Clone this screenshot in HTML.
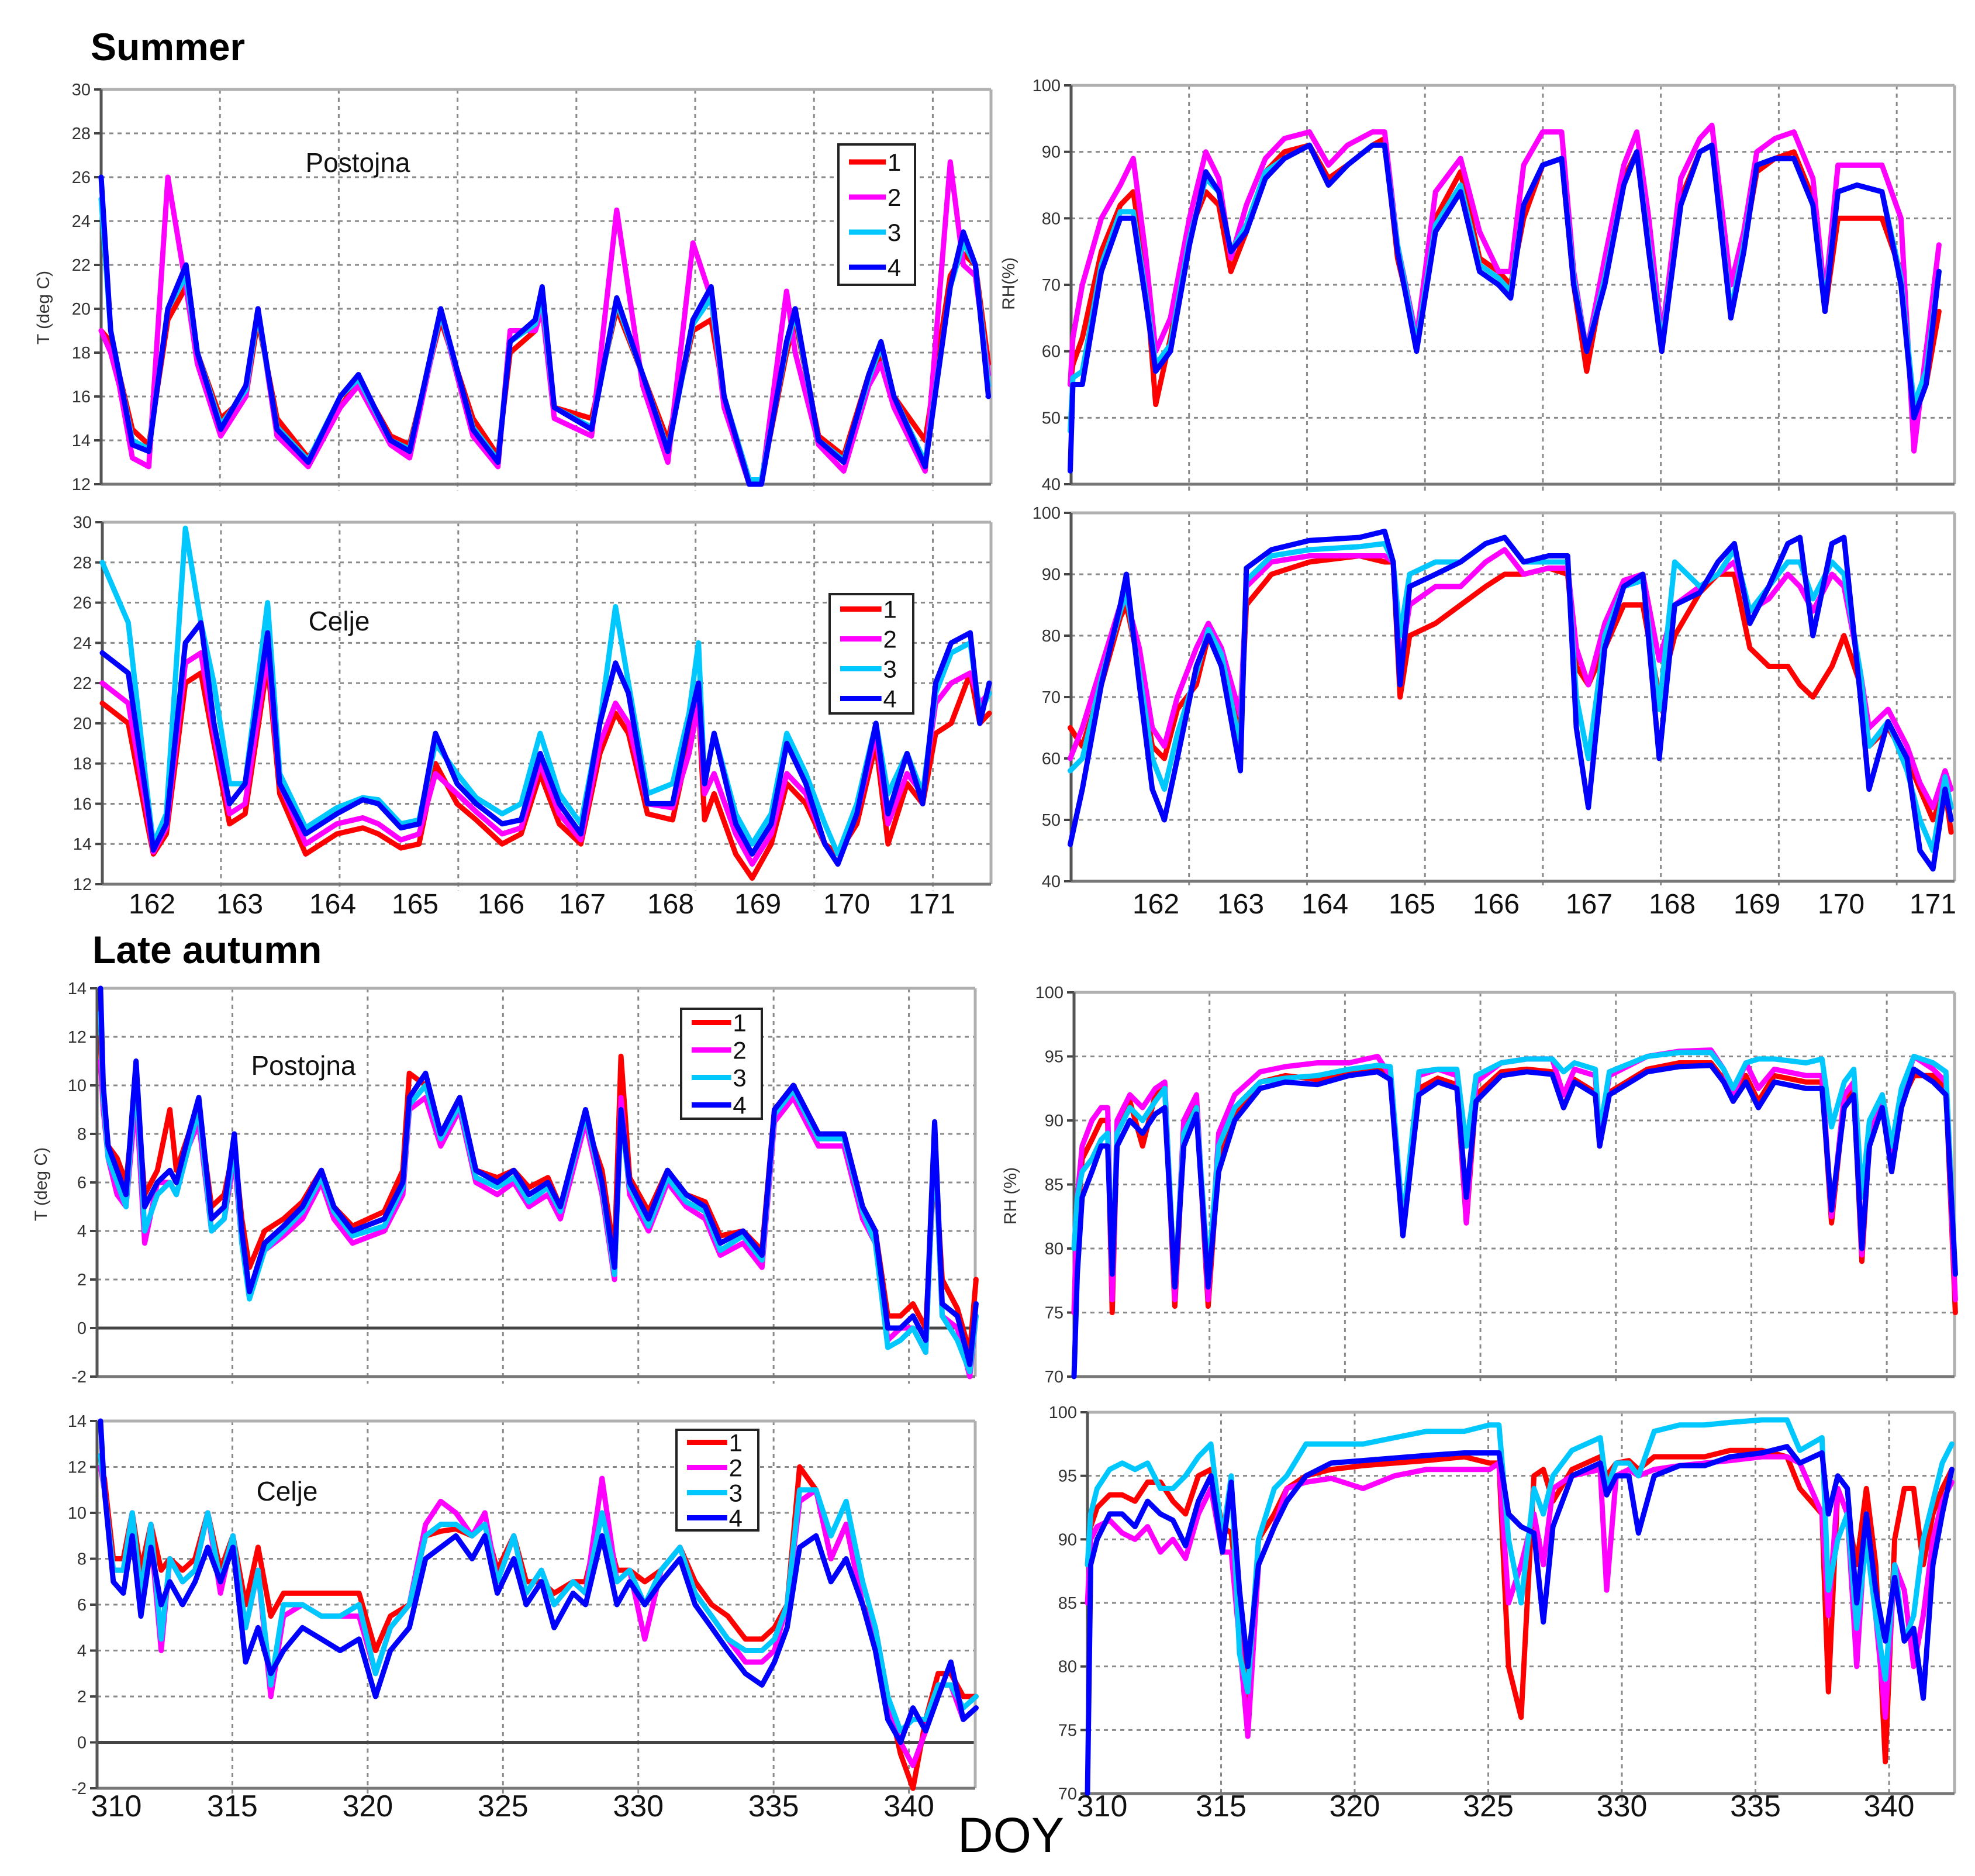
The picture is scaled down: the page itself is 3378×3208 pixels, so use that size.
<!DOCTYPE html>
<html><head><meta charset="utf-8"><style>
html,body{margin:0;padding:0;background:#fff}
svg{display:block}
text{font-family:"Liberation Sans",Arial,sans-serif}
</style></head><body>
<svg id="fig" width="3378" height="3208" viewBox="0 0 3378 3208" xmlns="http://www.w3.org/2000/svg">
<rect width="3378" height="3208" fill="#fff"/>
<text x="155" y="103" font-size="66" font-weight="bold">Summer</text>
<text x="158" y="1647" font-size="66" font-weight="bold">Late autumn</text>
<text x="1638" y="3167" font-size="84">DOY</text>
<text transform="translate(84,526) rotate(-90)" font-size="30" text-anchor="middle" fill="#333">T (deg C)</text>
<text transform="translate(1735,485) rotate(-90)" font-size="30" text-anchor="middle" fill="#333">RH(%)</text>
<text transform="translate(80,2025) rotate(-90)" font-size="30" text-anchor="middle" fill="#333">T (deg C)</text>
<text transform="translate(1738,2045) rotate(-90)" font-size="30" text-anchor="middle" fill="#333">RH (%)</text>
<g id="panels"></g>
</svg>
<script>
// ---------- DATA ----------
const seriesLabels = ["1","2","3","4"];
const seriesColors = ["#ff0000","#ff00ff","#00c8ff","#0000ff"];

// Summer Postojna T
const sPosT_time = [161.41,161.52,161.62,161.77,161.96,162.18,162.39,162.52,162.79,163.08,163.22,163.44,163.80,164.17,164.38,164.75,164.97,165.33,165.70,165.99,166.13,166.42,166.50,166.64,167.07,167.36,167.66,167.95,168.24,168.45,168.60,168.89,169.03,169.32,169.42,169.69,169.98,170.27,170.41,170.56,170.92,171.21,171.36,171.50,171.65];
const sPosT_1 = [19,18.5,17,14.5,13.8,19.5,21,18,15,16,19.5,15,13.2,15.5,16.8,14.2,13.8,19.5,15,13.3,18,19,20,15.5,15,20,17,14,19,19.5,16,12.2,12.2,18,19.5,14.2,13.3,17,17.8,16,14,21.5,22.5,22,17.5];
const sPosT_2 = [19,18,16.5,13.2,12.8,26,21,17.5,14.2,16,20,14.2,12.8,15.5,16.5,13.8,13.2,19.8,14.2,12.8,19,19,20,15,14.2,24.5,16.5,13,23,20.5,15.5,12,12,20.8,18,13.8,12.6,16.5,17.5,15.5,12.6,26.7,22,21.5,17];
const sPosT_3 = [25,19,17,14,13.6,20,21.5,18,14.7,16.3,19.8,14.6,13.1,16,16.8,14,13.6,19.8,14.6,13.1,18.5,19.3,20.5,15.5,14.6,20.3,17,13.6,19.3,20.5,16,12.2,12.2,18.3,19.8,14,13.1,16.8,18.3,16,13,21,23,22,16.5];
const sPosT_4 = [26,19,17,13.8,13.5,20,22,18,14.5,16.5,20,14.5,13,16,17,14,13.5,20,14.5,13,18.5,19.5,21,15.5,14.5,20.5,17,13.5,19.5,21,16,12,12,18.5,20,14,13,17,18.5,16,12.8,21,23.5,22,16];

// Summer Celje T
const sCelT_time = [161.41,161.71,161.93,162.0,162.15,162.37,162.55,162.70,162.88,163.06,163.32,163.46,163.76,164.12,164.42,164.6,164.86,165.07,165.26,165.51,165.73,166.03,166.25,166.47,166.69,166.94,167.16,167.34,167.49,167.71,168.0,168.19,168.30,168.37,168.48,168.73,168.92,169.14,169.32,169.54,169.76,169.91,170.13,170.35,170.49,170.71,170.89,171.04,171.22,171.44,171.55,171.66];
const sCelT_1 = [21,20,15,13.5,14.5,22,22.5,19,15,15.5,23,16.5,13.5,14.5,14.8,14.5,13.8,14,18,16,15.2,14,14.5,17.5,15,14,18.5,20.5,19.5,15.5,15.2,19,21,15.2,16.5,13.5,12.3,14,17,16,14,13.5,15,19,14,17,16,19.5,20,22.5,20,20.5];
const sCelT_2 = [22,21,15.5,13.6,14.8,23,23.5,19.5,15.5,16,23.5,17,14,15,15.3,15,14.2,14.5,17.5,16.5,15.6,14.5,14.8,18,15.5,14.2,19,21,20,16,15.8,18.5,21,16.5,17.5,14.5,13,14.5,17.5,16.5,14,13,15.5,19.5,15,17.5,16.5,21,22,22.5,21,21.5];
const sCelT_3 = [28,25,16.5,14,15.5,29.7,25,22,17,17,26,17.5,14.8,15.8,16.3,16.2,15,15.2,19,17.5,16.3,15.5,16,19.5,16.5,15,20,25.8,22,16.5,17,20.5,24,17,19.5,15.5,14,15.5,19.5,17.5,15,13.5,16,20,16.5,18.5,16.5,21.5,23.5,24,20.5,21.5];
const sCelT_4 = [23.5,22.5,16,13.7,15,24,25,20,16,17,24.5,17,14.5,15.5,16.2,16,14.8,15,19.5,17,16,15,15.2,18.5,16,14.5,20,23,21.5,16,16,20,22,17,19.5,15,13.5,15,19,17,14,13,15.5,20,15.5,18.5,16,22,24,24.5,20,22];

// Summer Postojna RH
const sPosRH_time = [161.01,161.04,161.15,161.37,161.59,161.74,161.88,162.0,162.17,162.39,162.58,162.73,162.87,163.05,163.27,163.49,163.78,164.0,164.22,164.51,164.65,164.80,165.02,165.24,165.53,165.75,165.97,166.11,166.26,166.48,166.70,166.84,166.99,167.20,167.42,167.57,167.71,167.86,168.08,168.30,168.44,168.66,168.81,168.96,169.17,169.39,169.61,169.75,169.90,170.12,170.41,170.63,170.78,170.92,171.07];
const sPosRH_1 = [55,58,62,75,82,84,72,52,62,78,84,82,72,78,87,90,91,86,88,91,92,74,62,80,87,74,72,70,80,88,89,70,57,72,86,90,75,60,83,90,91,70,76,87,89,90,83,66,80,80,80,72,50,55,66];
const sPosRH_2 = [55,62,70,80,85,89,75,60,65,80,90,86,74,82,89,92,93,88,91,93,93,76,62,84,89,78,72,72,88,93,93,72,60,74,88,93,80,62,86,92,94,70,78,90,92,93,86,68,88,88,88,80,45,60,76];
const sPosRH_3 = [48,56,57,73,81,81,69,58,61,77,86,84,75,79,87,89,91,85,88,91,91,76,61,79,85,73,71,69,82,88,89,71,60,71,85,90,76,61,82,90,91,66,76,88,89,89,82,67,84,85,84,71,52,57,72];
const sPosRH_4 = [42,55,55,72,80,80,68,57,60,76,87,84,75,78,86,89,91,85,88,91,91,75,60,78,84,72,70,68,82,88,89,70,60,70,85,90,75,60,82,90,91,65,75,88,89,89,82,66,84,85,84,70,50,55,72];

// Summer Celje RH
const sCelRH_time = [161.01,161.15,161.37,161.59,161.66,161.81,161.96,162.1,162.25,162.47,162.61,162.76,162.98,163.05,163.34,163.78,164.36,164.65,164.75,164.83,164.94,165.24,165.53,165.82,166.04,166.26,166.55,166.77,166.87,167.01,167.20,167.42,167.64,167.83,168.01,168.30,168.51,168.70,168.88,169.10,169.32,169.46,169.61,169.83,169.97,170.16,170.26,170.48,170.70,170.85,171.0,171.14,171.21];
const sCelRH_1 = [65,62,72,83,85,75,62,60,68,72,80,76,65,85,90,92,93,92,92,70,80,82,85,88,90,90,91,90,75,72,78,85,85,70,80,87,90,90,78,75,75,72,70,75,80,72,62,65,60,55,50,55,48];
const sCelRH_2 = [60,65,75,85,86,78,65,62,70,78,82,78,67,88,92,93,93,93,92,75,85,88,88,92,94,90,91,91,78,72,82,89,90,76,85,88,90,92,84,86,90,88,84,90,88,74,65,68,62,56,52,58,55];
const sCelRH_3 = [58,60,73,84,87,74,60,55,64,74,81,77,62,89,93,94,94.5,95,92,80,90,92,92,95,96,92,92,92,70,60,80,88,89,68,92,88,90,94,84,88,92,92,86,92,90,74,62,66,58,50,45,57,52];
const sCelRH_4 = [46,55,72,85,90,72,55,50,60,75,80,75,58,91,94,95.5,96,97,92,72,88,90,92,95,96,92,93,93,65,52,78,88,90,60,85,87,92,95,82,88,95,96,80,95,96,70,55,66,60,45,42,55,50];

// Autumn Postojna T
const aPosT_time = [310.13,310.23,310.41,310.74,311.07,311.44,311.76,312.23,312.69,312.93,313.39,313.76,314.23,314.70,315.07,315.35,315.63,316.19,316.89,317.59,318.29,318.75,319.44,320.61,321.30,321.54,322.14,322.70,323.40,324.0,324.79,325.40,325.96,326.66,327.12,328.05,328.66,329.12,329.36,329.68,330.38,331.08,331.77,332.47,333.03,333.87,334.57,335.03,335.73,336.66,337.60,338.29,338.76,339.22,339.69,340.15,340.62,340.95,341.23,341.79,342.25,342.48];
const aPosT_1 = [12,9,7.5,7,6,10,5.5,6.5,9,6.5,8,9,5,5.5,7.5,4.5,2.5,4,4.5,5.2,6.5,5,4.2,4.8,6.5,10.5,10,8,9.5,6.5,6.2,6.5,5.8,6.2,5,8.5,6.5,3,11.2,6.2,4.8,6.5,5.5,5.2,3.8,4,3.2,9,10,8,8,5,4,0.5,0.5,1,0,7,2,0.8,-1,2];
const aPosT_2 = [11,9,7,5.5,5,9.5,3.5,6,6,5.5,7.5,8.5,4,4.5,7,3.5,1.5,3.2,3.8,4.5,6,4.5,3.5,4,5.5,9,9.5,7.5,9,6,5.5,6,5,5.5,4.5,8.5,5.5,2,9.5,5.5,4,6,5,4.5,3,3.5,2.5,8.5,9.5,7.5,7.5,4.5,3.5,-0.5,0,0,-1,8,0.5,0,-2,0.5];
const aPosT_3 = [13,9.5,7,6,5,10.5,4,5.5,6,5.5,7.5,9,4,4.5,7.5,3.5,1.2,3.2,4,4.8,6.2,4.8,3.8,4.2,5.8,9.2,10,7.8,9.2,6.2,5.8,6.2,5.2,5.8,4.8,8.8,5.8,2.2,8.8,5.8,4.2,6.2,5.2,4.8,3.2,3.8,2.8,8.8,9.8,7.8,7.8,4.8,3.5,-0.8,-0.5,0,-1,8,0.5,-0.5,-1.8,0.5];
const aPosT_4 = [14,10,7.5,6.5,5.5,11,5,6,6.5,6,8,9.5,4.5,5,8,4,1.5,3.5,4.2,5,6.5,5,4,4.5,6,9.5,10.5,8,9.5,6.5,6,6.5,5.5,6,5,9,6,2.5,9,6,4.5,6.5,5.5,5,3.5,4,3,9,10,8,8,5,4,0,0,0.5,-0.5,8.5,1,0.5,-1.5,1];

// Autumn Celje T
const aCelT_time = [310.13,310.27,310.6,310.97,311.30,311.62,311.99,312.37,312.69,313.16,313.62,314.09,314.56,315.02,315.49,315.95,316.42,316.89,317.59,318.29,318.98,319.68,320.29,320.84,321.54,322.14,322.70,323.26,323.86,324.33,324.79,325.40,325.86,326.42,326.89,327.59,328.05,328.66,329.21,329.68,330.24,330.84,331.54,332.10,332.71,333.31,333.96,334.57,335.03,335.50,335.96,336.57,337.12,337.68,338.29,338.76,339.22,339.69,340.15,340.62,341.08,341.55,342.01,342.48];
const aCelT_1 = [12,11.5,8,8,10,7.5,9.5,7.5,8,7.5,8,10,7.5,9,6,8.5,5.5,6.5,6.5,6.5,6.5,6.5,4,5.5,6,9,9.2,9.3,9,9.5,7.5,9,7,7,6.5,7,7,10,7.5,7.5,7,7.5,8.5,7,6,5.5,4.5,4.5,5,6,12,11,8,9.5,6,5,2,-0.5,-2,1,3,3,2,2];
const aCelT_2 = [12,11,7.5,7.5,10,6,9,4,8,7,7.5,10,6.5,9,5,7.5,2,5.5,6,5.5,5.5,5.5,3,5,6,9.5,10.5,10,9,10,7,9,6.5,7.5,6,7,6.5,11.5,7,7.5,4.5,7.5,8.5,6.5,5.5,4.5,3.5,3.5,4,6,10.5,11,8,9.5,6,4.5,1.5,0,-1,0.5,2.5,2.5,1,1.5];
const aCelT_3 = [12.5,11,7.5,7.5,10,6.5,9.5,4.5,8,7,7.5,10,7,9,5,7.5,2.5,6,6,5.5,5.5,6,3,5,6,9,9.5,9.5,9,9.5,7,9,6.5,7.5,6,7,6.5,10,7,7.5,6,7.5,8.5,6.5,5.5,4.5,4,4,4.5,6,11,11,9,10.5,7,5,2,0.5,1,1,2.5,2.5,1.5,2];
const aCelT_4 = [14,11,7,6.5,9,5.5,8.5,6,7,6,7,8.5,7,8.5,3.5,5,3,4,5,4.5,4,4.5,2,4,5,8,8.5,9,8,9,6.5,8,6,7,5,6.5,6,9,6,7,6,7,8,6,5,4,3,2.5,3.5,5,8.5,9,7,8,6,4,1,0,1.5,0.5,2,3.5,1,1.5];

// Autumn Postojna RH
const aPosRH_time = [310,310.12,310.30,310.66,311.0,311.24,311.41,311.59,312.06,312.53,313.0,313.35,313.72,314.05,314.52,314.95,315.34,315.93,316.87,317.80,318.98,320.15,321.2,321.67,322.14,322.73,323.43,324.13,324.48,324.84,325.77,326.71,327.65,328.07,328.47,329.24,329.40,329.76,331.16,332.33,333.51,333.98,334.33,334.80,335.26,335.85,337.02,337.61,337.96,338.43,338.78,339.08,339.36,339.83,340.18,340.54,341.0,341.71,342.18,342.53];
const aPosRH_1 = [75,82,87,88.5,90,90,75,89,91.5,88,92,92.5,75.5,89,91.5,75.5,87,90.5,93,93.5,93.2,93.8,94,93.5,82,92.5,93.3,92.8,82,92,93.8,94,93.8,91,93.2,92.2,88,92.2,94,94.5,94.5,93.2,91.5,93.5,91.5,93.5,93,93,82,91.5,92.5,79,88.5,91.5,86,91.5,93.5,93.5,92.5,75];
const aPosRH_2 = [75,84,88,90,91,91,76,90,92,91,92.5,93,76,90,92,76,89,92,93.8,94.2,94.5,94.5,95,93.5,82,93.5,94,93.5,82,93,94.5,94.8,94.8,92,94,93.5,88.5,93.5,95,95.4,95.5,94,92,94.5,92.5,94,93.5,93.5,82.5,92,93,79.5,89,92,86.5,92,95,94,93,76];
const aPosRH_3 = [80,84,86,87,88.5,89,78,89,91,90,91.5,92.5,77,89,91,78,88,91,93,93.3,93.5,94,94.3,94.2,82,93.8,94,94,88,93.5,94.5,94.8,94.8,93.8,94.5,94,89,93.8,95,95.3,95.3,94,92.5,94.5,94.8,94.8,94.5,94.8,89.5,93,94,84,90,92,88,92.5,95,94.5,93.8,78];
const aPosRH_4 = [70,78,84,86,88,88,78,88,90,89,90.5,91,77,88,90.5,77,86,90,92.5,93,92.8,93.5,93.8,93.2,81,92,93,92.5,84,91.5,93.5,93.8,93.6,91,93,92,88,92,93.8,94.2,94.3,93,91.5,93,91,93,92.5,92.5,83,91,92,80,88,91,86,91,94,93,92,78];

// Autumn Celje RH
const aCelRH_time = [310,310.12,310.36,310.83,311.30,311.78,312.25,312.73,313.2,313.67,314.15,314.62,315.05,315.38,315.69,316.0,316.40,316.99,317.46,318.18,319.12,320.31,321.49,322.68,324.10,325.05,325.40,325.76,326.23,326.71,327.06,327.42,328.13,329.19,329.43,329.79,330.26,330.62,331.21,332.16,333.10,334.05,335.24,336.18,336.66,337.49,337.73,338.08,338.44,338.79,339.15,339.50,339.86,340.21,340.57,340.92,341.28,341.64,341.99,342.35];
const aCelRH_1 = [88,91,92.5,93.5,93.5,93,94.5,94.5,93,92,95,95.5,91,90.5,85,76,90,92,94,95,95.5,95.8,96,96.2,96.5,96,96,80,76,95,95.5,93,95.5,96.5,95,96,96.2,95.5,96.5,96.5,96.5,97,97,96.5,94,92,78,94,92,88,94,88,72.5,90,94,94,88,92,94,95.5];
const aCelRH_2 = [85,90,91,91.5,90.5,90,91,89,90,88.5,92,94,89,89,82,74.5,88,91,94,94.5,94.8,94,95,95.5,95.5,95.5,96,85,88,92,88,94,95,95.5,86,95,95.5,95,95.5,95.8,96,96.2,96.5,96.5,96,92,84,94,92,80,92,84,76,88,86,80,84,90,93,94.5];
const aCelRH_3 = [88,92,94,95.5,96,95.5,96,94,94,95,96.5,97.5,90,95,81,78,90,94,95,97.5,97.5,97.5,98,98.5,98.5,99,99,90,85,94,92,95,97,98,94,96,96,95,98.5,99,99,99.2,99.4,99.4,97,98,86,90,92,83,90,84,79,88,82,84,90,93,96,97.5];
const aCelRH_4 = [70,88,90,92,92,91,93,92,91.5,89.5,93,95,89,94.5,86,80,88,91,93,95,96,96.2,96.4,96.6,96.8,96.8,96.8,92,91,90.5,83.5,91,95,96,93.5,95,95,90.5,95,95.8,95.8,96.5,96.8,97.3,96,96.8,92,95,94,85,92,86,82,87,82,83,77.5,88,92,95.5];

// Tick values
const summerTTicks = [12,14,16,18,20,22,24,26,28,30];
const summerRHTicks = [40,50,60,70,80,90,100];
const autumnTTicks = [-2,0,2,4,6,8,10,12,14];
const autumnRHTicks = [70,75,80,85,90,95,100];
const summerDays = ["162","163","164","165","166","167","168","169","170","171"];
const autumnDays = ["310","315","320","325","330","335","340"];

// ---------- LAYOUT (geometry only) ----------
const panels = [
 {name:"summer-postojna-t", x0:173,x1:1695,y0:153,y1:828, d0:161.41,d1:171.68, v0:12,v1:30, ticks:summerTTicks, t:sPosT_time, s:[sPosT_1,sPosT_2,sPosT_3,sPosT_4], grid:"sumL", legend:[1434,247,131,240], station:["Postojna",612,278]},
 {name:"summer-celje-t", x0:175,x1:1695,y0:893,y1:1512, d0:161.41,d1:171.68, v0:12,v1:30, ticks:summerTTicks, t:sCelT_time, s:[sCelT_1,sCelT_2,sCelT_3,sCelT_4], grid:"sumL", legend:[1419,1016,143,204], station:["Celje",580,1062], xlab:"sumL"},
 {name:"summer-postojna-rh", x0:1832,x1:3343,y0:146,y1:828, d0:161.02,d1:171.25, v0:40,v1:100, ticks:summerRHTicks, t:sPosRH_time, s:[sPosRH_1,sPosRH_2,sPosRH_3,sPosRH_4], grid:"sumR"},
 {name:"summer-celje-rh", x0:1832,x1:3343,y0:877,y1:1507, d0:161.02,d1:171.25, v0:40,v1:100, ticks:summerRHTicks, t:sCelRH_time, s:[sCelRH_1,sCelRH_2,sCelRH_3,sCelRH_4], grid:"sumR", xlab:"sumR"},
 {name:"autumn-postojna-t", x0:166,x1:1668,y0:1690,y1:2354, d0:310,d1:342.45, v0:-2,v1:14, ticks:autumnTTicks, t:aPosT_time, s:[aPosT_1,aPosT_2,aPosT_3,aPosT_4], grid:"aut", zero:true, legend:[1165,1725,138,188], station:["Postojna",519,1822]},
 {name:"autumn-celje-t", x0:166,x1:1668,y0:2430,y1:3058, d0:310,d1:342.45, v0:-2,v1:14, ticks:autumnTTicks, t:aCelT_time, s:[aCelT_1,aCelT_2,aCelT_3,aCelT_4], grid:"aut", zero:true, legend:[1157,2445,140,172], station:["Celje",491,2550], xlab:"autL"},
 {name:"autumn-postojna-rh", x0:1837,x1:3343,y0:1697,y1:2354, d0:310,d1:342.5, v0:70,v1:100, ticks:autumnRHTicks, t:aPosRH_time, s:[aPosRH_1,aPosRH_2,aPosRH_3,aPosRH_4], grid:"aut"},
 {name:"autumn-celje-rh", x0:1860,x1:3343,y0:2415,y1:3067, d0:310,d1:342.45, v0:70,v1:100, ticks:autumnRHTicks, t:aCelRH_time, s:[aCelRH_1,aCelRH_2,aCelRH_3,aCelRH_4], grid:"aut", xlab:"autR"}
];
const NS="http://www.w3.org/2000/svg";
const root=document.getElementById('panels');
function mk(tag,attrs,parent){const e=document.createElementNS(NS,tag);for(const k in attrs)e.setAttribute(k,attrs[k]);(parent||root).appendChild(e);return e;}

panels.forEach(p=>{
  const g=mk('g',{});
  
  
  const X=d=>p.x0+(d-p.d0)/(p.d1-p.d0)*(p.x1-p.x0);
  const Y=v=>p.y1-(v-p.v0)/(p.v1-p.v0)*(p.y1-p.y0);
  // vertical gridlines
  let gx=[];
  if(p.grid==="sumL"||p.grid==="sumR"){const w=(p.x1-p.x0)/7.49;for(let k=1;k<=7;k++)gx.push(p.x0+w*k);}
  else {for(let d=315;d<=340;d+=5)gx.push(X(d));}
  gx.forEach(x=>{const l=mk('line',{x1:x,x2:x,y1:p.y0,y2:p.y1+12,stroke:'#8a8a8a','stroke-width':3,'stroke-dasharray':'7 7'},g);
    
    });
  // horizontal gridlines + tick labels
  p.ticks.forEach(v=>{const y=Y(v);
    if(v!==p.v0&&v!==p.v1){const l=mk('line',{x1:p.x0,x2:p.x1,y1:y,y2:y,stroke:'#8a8a8a','stroke-width':3,'stroke-dasharray':'7 7'},g);
      
      }
    mk('line',{x1:p.x0-12,x2:p.x0,y1:y,y2:y,stroke:'#444','stroke-width':4},g);
    const t=mk('text',{x:p.x0-18,y:y+10,'font-size':29,'text-anchor':'end',fill:'#333'},g);
    t.textContent=String(v);
    
    
  });
  if(p.zero){const l=mk('line',{x1:p.x0,x2:p.x1,y1:Y(0),y2:Y(0),stroke:'#444','stroke-width':5},g);
    
    }
  // frame
  mk('line',{x1:p.x0,x2:p.x1,y1:p.y0,y2:p.y0,stroke:'#b0b0b0','stroke-width':5},g);
  mk('line',{x1:p.x1,x2:p.x1,y1:p.y0,y2:p.y1,stroke:'#b0b0b0','stroke-width':5},g);
  mk('line',{x1:p.x0,x2:p.x1,y1:p.y1,y2:p.y1,stroke:'#777','stroke-width':5},g);
  mk('line',{x1:p.x0,x2:p.x0,y1:p.y0,y2:p.y1,stroke:'#555','stroke-width':5},g);
  // series
  p.s.forEach((vals,i)=>{
    let d='';vals.forEach((v,j)=>{const vv=Math.max(p.v0,Math.min(p.v1,v));d+=(j?'L':'M')+X(p.t[j]).toFixed(1)+','+Y(vv).toFixed(1);});
    const path=mk('path',{d:d,fill:'none',stroke:seriesColors[i],'stroke-width':9,'stroke-linejoin':'round','stroke-linecap':'round'},g);
    
    
  });
  // station label
  if(p.station){const t=mk('text',{x:p.station[1],y:p.station[2]+16,'font-size':46,'text-anchor':'middle',fill:'#111'},g);
    t.textContent=p.station[0];
    
    }
  // legend
  if(p.legend){const [lx,ly,lw,lh]=p.legend;
    const lg=mk('g',{},g);
    
    
    mk('rect',{x:lx,y:ly,width:lw,height:lh,fill:'#fff',stroke:'#222','stroke-width':4},lg);
    const step=lh/4;
    seriesLabels.forEach((s,i)=>{const yy=ly+step*(i+0.5);
      const e=mk('g',{},lg);
      
      
      mk('line',{x1:lx+18,x2:lx+lw*0.62,y1:yy,y2:yy,stroke:seriesColors[i],'stroke-width':9},e);
      const t=mk('text',{x:lx+lw*0.64,y:yy+15,'font-size':42,fill:'#111'},e);t.textContent=s;});
  }
  // x labels
  if(p.xlab){let pos=[],labs=[],fs=48,yy=1562;
    if(p.xlab==="sumL"){labs=summerDays;pos=[260,410,569,710,857,996,1147,1296,1448,1594];}
    if(p.xlab==="sumR"){labs=summerDays;pos=[1977,2122,2266,2415,2559,2718,2860,3005,3149,3306];}
    if(p.xlab==="autL"){labs=autumnDays;fs=52;yy=3106;pos=autumnDays.map((d,i)=>i===0?199:X(+d));}
    if(p.xlab==="autR"){labs=autumnDays;fs=52;yy=3106;pos=autumnDays.map((d,i)=>i===0?1885:X(+d));}
    labs.forEach((s,i)=>{const t=mk('text',{x:pos[i],y:yy,'font-size':fs,'text-anchor':'middle',fill:'#111'},g);
      t.textContent=s;
      
      });
  }
});
</script>
</body></html>
